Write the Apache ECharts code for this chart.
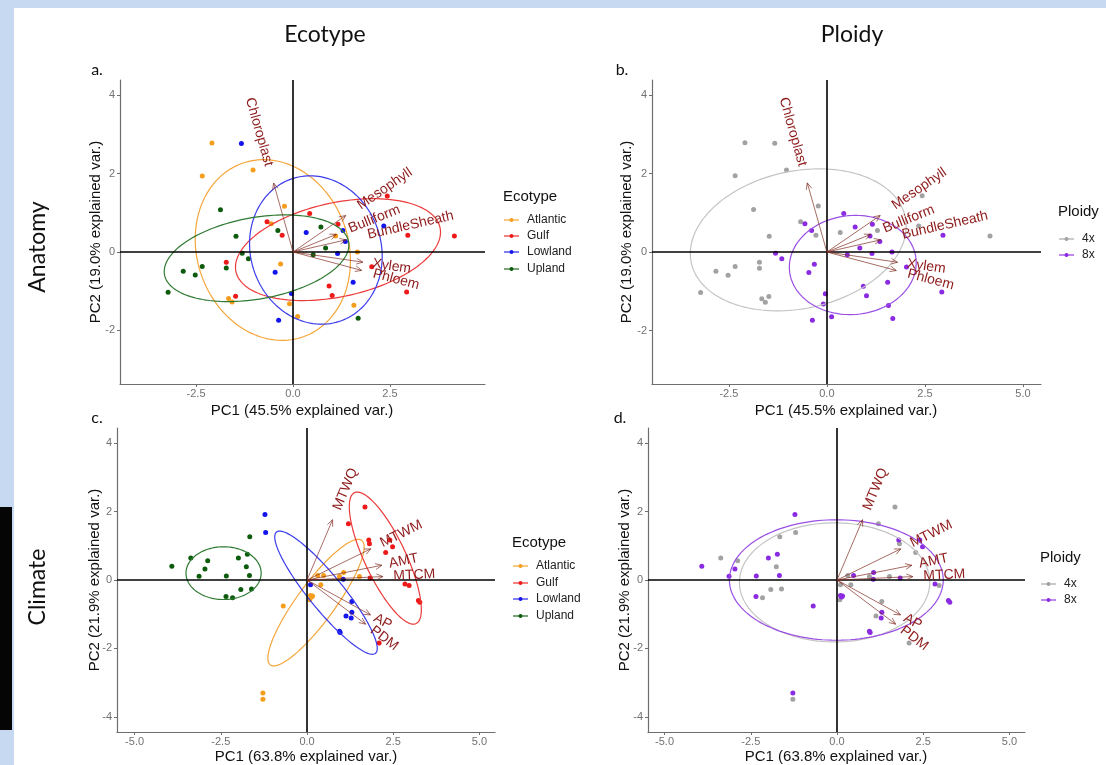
<!DOCTYPE html>
<html>
<head>
<meta charset="utf-8">
<script src="https://cdn.jsdelivr.net/npm/echarts@6/dist/echarts.min.js"></script>
<style>
  html, body { margin: 0; padding: 0; background: #c6d9f0; }
  #paper { position: absolute; left: 14px; top: 8px; width: 1092px; height: 757px; background: #fff; }
  #strip { position: absolute; left: 0; top: 507px; width: 12px; height: 223px; background: #050505; }
  #chart { position: absolute; left: 0; top: 0; width: 1106px; height: 765px; }
</style>
</head>
<body>
<div id="paper"></div>
<div id="strip"></div>
<div id="chart"></div>
<script>
// ---------------- data ----------------
var ecotypes = ['Atlantic', 'Gulf', 'Lowland', 'Upland'];
var ploidies = ['4x', '8x'];

// anatomy PCA (PC1 45.5%, PC2 19.0%)
var anatomyPC1 = [
  -2.09, -2.34, -1.03, -0.22, -0.56, 1.10, 1.66, -0.32, -1.66, -1.57, -0.09, 1.57, 0.12,
  2.43, 0.43, -0.67, -0.28, 1.16, 2.96, 4.16, 2.03, -1.72, -1.48, 0.93, 1.01, 2.93,
  -1.33, 0.34, 1.29, 2.34, 1.35, 1.15, -0.46, -0.04, 1.55, -0.37,
  -1.87, -1.47, -0.39, 0.72, 0.84, 0.52, -1.31, -1.15, -2.83, -2.52, -2.34, -1.72, -3.22, 1.68
];
var anatomyPC2 = [
  2.78, 1.94, 2.09, 1.17, 0.72, 0.41, 0.00, -0.31, -1.19, -1.28, -1.32, -1.36, -1.65,
  1.43, 0.98, 0.77, 0.43, 0.71, 0.43, 0.41, -0.38, -0.26, -1.13, -0.87, -1.11, -1.02,
  2.77, 0.50, 0.55, 0.66, 0.27, -0.04, -0.52, -1.06, -0.77, -1.74,
  1.08, 0.40, 0.55, 0.64, 0.10, -0.07, -0.03, -0.17, -0.49, -0.59, -0.37, -0.41, -1.03, -1.69
];
var anatomyEcotype = [
  0,0,0,0,0,0,0,0,0,0,0,0,0,
  1,1,1,1,1,1,1,1,1,1,1,1,1,
  2,2,2,2,2,2,2,2,2,2,
  3,3,3,3,3,3,3,3,3,3,3,3,3,3
];
var anatomyPloidy = [
  0,0,0,0,1,1,1,1,0,0,1,1,1,
  0,1,0,0,1,1,0,1,0,0,1,1,1,
  0,0,0,0,1,1,1,1,1,1,
  0,0,1,1,1,1,1,1,0,0,0,0,0,1
];
var anatomyVars = ['Chloroplast', 'Mesophyll', 'Bulliform', 'BundleSheath', 'Xylem', 'Phloem'];
var anatomyLoadPC1 = [-0.50, 1.36, 1.12, 1.37, 1.80, 1.77];
var anatomyLoadPC2 = [1.76, 0.93, 0.45, 0.31, -0.26, -0.47];
// ellipses: [centre PC1, centre PC2, semi-axis a, semi-axis b, angle of a (deg)]
var anatomyEcoEllipses = [
  [-0.52, 0.05, 2.35, 1.95, 110],
  [1.16, 0.06, 2.69, 1.20, 12],
  [0.59, 0.05, 1.92, 1.68, 110],
  [-0.94, -0.16, 2.41, 1.04, 10]
];
var anatomyPloEllipses = [
  [-0.73, 0.31, 2.79, 1.75, 12],
  [0.66, -0.33, 1.62, 1.26, 5]
];

// climate PCA (PC1 63.8%, PC2 21.9%)
var climatePC1 = [
  -1.28, -1.28, -0.69, 0.10, 0.13, 0.08, 0.16, 0.31, 0.48, 0.94, 1.06, 1.52, 0.40,
  1.68, 1.20, 1.79, 1.81, 2.28, 2.40, 2.48, 2.84, 2.96, 3.23, 3.27, 2.09, 1.83,
  -1.22, -1.20, 0.10, 1.05, 1.30, 1.30, 1.28, 1.13, 0.94, 0.96,
  -3.92, -3.37, -3.13, -2.96, -2.88, -2.34, -2.35, -2.16, -1.99, -1.92, -1.76, -1.73, -1.67, -1.61, -1.66
];
var climatePC2 = [
  -3.30, -3.48, -0.76, -0.45, -0.50, -0.58, -0.47, 0.13, 0.13, 0.10, 0.22, 0.10, -0.14,
  2.13, 1.64, 1.17, 1.06, 0.80, 1.17, 0.97, -0.12, -0.16, -0.60, -0.65, -1.84, 0.06,
  1.91, 1.39, -0.14, 0.02, -0.63, -0.94, -1.11, -1.05, -1.50, -1.53,
  0.40, 0.64, 0.11, 0.32, 0.56, 0.12, -0.48, -0.52, 0.64, -0.28, 0.39, 0.75, 0.13, -0.26, 1.26
];
var climateEcotype = [
  0,0,0,0,0,0,0,0,0,0,0,0,0,
  1,1,1,1,1,1,1,1,1,1,1,1,1,
  2,2,2,2,2,2,2,2,2,2,
  3,3,3,3,3,3,3,3,3,3,3,3,3,3,3
];
var climatePloidy = [
  1,0,1,1,1,0,1,0,1,0,1,0,0,
  0,0,1,0,0,1,1,1,0,1,1,0,1,
  1,0,0,1,0,1,1,0,1,1,
  1,0,1,1,0,1,1,0,1,0,0,1,1,0,0
];
var climateVars = ['MTWQ', 'MTWM', 'AMT', 'MTCM', 'AP', 'PDM'];
var climateLoadPC1 = [0.74, 1.85, 2.17, 2.20, 1.84, 1.70];
var climateLoadPC2 = [1.76, 0.91, 0.43, 0.10, -1.02, -1.29];
var climateEcoEllipses = [
  [0.26, -0.66, 2.25, 0.55, 54],
  [2.27, 0.64, 2.11, 0.60, 115],
  [0.55, -0.37, 2.28, 0.50, 129],
  [-2.42, 0.20, 1.09, 0.77, 0]
];
var climatePloEllipses = [
  [-0.07, -0.07, 2.76, 1.74, 0],
  [-0.02, 0.00, 3.10, 1.76, 0]
];

// ---------------- styles ----------------
var ecoPoint = ['#f59d1c', '#ee1a1a', '#1414ec', '#0d5c0d'];
var ecoLine = ['#f4a63a', '#ec3a3a', '#3c3cec', '#2f7a32'];
var ploPoint = ['#a2a2a2', '#8a2be2'];
var ploLine = ['#c4c4c4', '#9b4fe3'];
var arrowColor = 'rgba(130,45,35,0.7)';
var labelColor = '#8e1b1b';
var FONT = '"Liberation Sans", Arial, sans-serif';

var measureCtx = document.createElement('canvas').getContext('2d');
function textWidth(t, font) {
  measureCtx.font = font;
  return measureCtx.measureText(t).width;
}

var panels = [
  { grid: { left: 120, top: 80, width: 365, height: 304 }, x: [-4.46, 4.95], y: [-3.37, 4.39],
    xt: [-2.5, 0, 2.5], yt: [-2, 0, 2, 4] },
  { grid: { left: 652, top: 80, width: 389, height: 304 }, x: [-4.46, 5.46], y: [-3.36, 4.38],
    xt: [-2.5, 0, 2.5, 5], yt: [-2, 0, 2, 4] },
  { grid: { left: 117, top: 428, width: 378, height: 304 }, x: [-5.51, 5.45], y: [-4.44, 4.44],
    xt: [-5, -2.5, 0, 2.5, 5], yt: [-4, -2, 0, 2, 4] },
  { grid: { left: 648, top: 428, width: 377, height: 304 }, x: [-5.48, 5.45], y: [-4.44, 4.44],
    xt: [-5, -2.5, 0, 2.5, 5], yt: [-4, -2, 0, 2, 4] }
];

var grids = [], xAxes = [], yAxes = [], series = [];
panels.forEach(function (p, i) {
  grids.push(p.grid);
  xAxes.push({
    gridIndex: i, type: 'value', min: p.x[0], max: p.x[1],
    axisLine: { show: true, onZero: false, lineStyle: { color: '#6e6e6e', width: 1.2 } },
    axisTick: { show: true, length: 3, customValues: p.xt, lineStyle: { color: '#6e6e6e' } },
    axisLabel: { customValues: p.xt, color: '#727272', fontSize: 11, margin: 4, fontFamily: FONT,
      formatter: function (v) { return v.toFixed(1); } },
    splitLine: { show: false }
  });
  yAxes.push({
    gridIndex: i, type: 'value', min: p.y[0], max: p.y[1],
    axisLine: { show: true, onZero: false, lineStyle: { color: '#6e6e6e', width: 1.2 } },
    axisTick: { show: true, length: 3, customValues: p.yt, lineStyle: { color: '#6e6e6e' } },
    axisLabel: { customValues: p.yt, color: '#727272', fontSize: 11, margin: 5, fontFamily: FONT,
      formatter: function (v) { return String(v); } },
    splitLine: { show: false }
  });
});

function addPanel(idx, pc1, pc2, groups, names, ptColors, ellipses, elColors, vars, l1, l2) {
  // points
  names.forEach(function (nm, g) {
    var pts = [];
    pc1.forEach(function (v, k) { if (groups[k] === g) pts.push([v, pc2[k]]); });
    var s = {
      type: 'scatter', name: nm, xAxisIndex: idx, yAxisIndex: idx, data: pts,
      symbolSize: 5, itemStyle: { color: ptColors[g], opacity: 1 }, z: 3, silent: true
    };
    if (g === 0) {
      s.markLine = {
        silent: true, symbol: 'none', label: { show: false },
        lineStyle: { color: '#000', width: 1.6, type: 'solid' },
        data: [{ xAxis: 0 }, { yAxis: 0 }]
      };
    }
    series.push(s);
  });
  // ellipses
  series.push({
    type: 'custom', xAxisIndex: idx, yAxisIndex: idx, z: 4, silent: true,
    data: ellipses.map(function (e) { return [e[0], e[1]]; }),
    renderItem: function (params, api) {
      var e = ellipses[params.dataIndex];
      var ang = e[4] * Math.PI / 180, ca = Math.cos(ang), sa = Math.sin(ang);
      var pts = [];
      for (var k = 0; k <= 144; k++) {
        var t = k / 144 * 2 * Math.PI;
        var ux = e[2] * Math.cos(t), uy = e[3] * Math.sin(t);
        pts.push(api.coord([e[0] + ux * ca - uy * sa, e[1] + ux * sa + uy * ca]));
      }
      return { type: 'polyline', shape: { points: pts },
        style: { stroke: elColors[params.dataIndex], fill: null, lineWidth: 1.2 } };
    }
  });
  // arrows
  series.push({
    type: 'custom', xAxisIndex: idx, yAxisIndex: idx, z: 5, silent: true,
    data: l1.map(function (v, k) { return [v, l2[k]]; }),
    renderItem: function (params, api) {
      var p0 = api.coord([0, 0]);
      var p1 = api.coord([api.value(0), api.value(1)]);
      var a = Math.atan2(p1[1] - p0[1], p1[0] - p0[0]);
      var L = 7, w = 0.42;
      var h1 = [p1[0] - L * Math.cos(a - w), p1[1] - L * Math.sin(a - w)];
      var h2 = [p1[0] - L * Math.cos(a + w), p1[1] - L * Math.sin(a + w)];
      return { type: 'group', children: [
        { type: 'line', shape: { x1: p0[0], y1: p0[1], x2: p1[0], y2: p1[1] },
          style: { stroke: arrowColor, lineWidth: 1 } },
        { type: 'polyline', shape: { points: [h1, p1, h2] },
          style: { stroke: arrowColor, fill: null, lineWidth: 1 } }
      ] };
    }
  });
  // variable names (ggbiplot style: angle = atan(y/x), hjust = (1 - 1.5*sign(x))/2)
  series.push({
    type: 'custom', xAxisIndex: idx, yAxisIndex: idx, z: 6, silent: true,
    data: l1.map(function (v, k) { return [v, l2[k]]; }),
    renderItem: function (params, api) {
      var x = api.value(0), y = api.value(1);
      var name = vars[params.dataIndex];
      var font = '14px ' + FONT;
      var tip = api.coord([x, y]);
      var rad = Math.atan(y / x);
      var gap = 0.25 * textWidth(name, font);
      var dx = Math.cos(rad) * gap, dy = -Math.sin(rad) * gap;
      var pos = x >= 0 ? [tip[0] + dx, tip[1] + dy] : [tip[0] - dx, tip[1] - dy];
      return { type: 'text', x: pos[0], y: pos[1], rotation: rad,
        style: { text: name, fill: labelColor, font: font,
          align: x >= 0 ? 'left' : 'right', verticalAlign: 'middle' } };
    }
  });
}

addPanel(0, anatomyPC1, anatomyPC2, anatomyEcotype, ecotypes, ecoPoint, anatomyEcoEllipses, ecoLine,
  anatomyVars, anatomyLoadPC1, anatomyLoadPC2);
addPanel(1, anatomyPC1, anatomyPC2, anatomyPloidy, ploidies, ploPoint, anatomyPloEllipses, ploLine,
  anatomyVars, anatomyLoadPC1, anatomyLoadPC2);
addPanel(2, climatePC1, climatePC2, climateEcotype, ecotypes, ecoPoint, climateEcoEllipses, ecoLine,
  climateVars, climateLoadPC1, climateLoadPC2);
addPanel(3, climatePC1, climatePC2, climatePloidy, ploidies, ploPoint, climatePloEllipses, ploLine,
  climateVars, climateLoadPC1, climateLoadPC2);

// ---------------- text furniture ----------------
var graphics = [];
function txt(t, x, y, font, color, align, rot) {
  graphics.push({ type: 'text', x: x, y: y, rotation: rot || 0, silent: true,
    style: { text: t, font: font, fill: color || '#111', align: align || 'center', verticalAlign: 'middle' } });
}
var big = '23px Lato, "Open Sans", sans-serif';
txt('Ecotype', 325, 35, big);
txt('Ploidy', 852, 35, big);
txt('Anatomy', 38, 247, big, '#111', 'center', Math.PI / 2);
txt('Climate', 38, 587, big, '#111', 'center', Math.PI / 2);
var tag = '16px Lato, "Open Sans", sans-serif';
txt('a.', 97, 70, tag);
txt('b.', 622, 70, tag);
txt('c.', 97, 418, tag);
txt('d.', 620, 418, tag);

var axisFont = '15px ' + FONT;
txt('PC1 (45.5% explained var.)', 302, 411, axisFont, '#111');
txt('PC1 (45.5% explained var.)', 846, 411, axisFont, '#111');
txt('PC1 (63.8% explained var.)', 306, 757, axisFont, '#111');
txt('PC1 (63.8% explained var.)', 836, 757, axisFont, '#111');
txt('PC2 (19.0% explained var.)', 96, 232, axisFont, '#111', 'center', Math.PI / 2);
txt('PC2 (19.0% explained var.)', 627, 232, axisFont, '#111', 'center', Math.PI / 2);
txt('PC2 (21.9% explained var.)', 95, 580, axisFont, '#111', 'center', Math.PI / 2);
txt('PC2 (21.9% explained var.)', 625, 580, axisFont, '#111', 'center', Math.PI / 2);

function legend(title, names, colors, x0, yTitle, yItems) {
  txt(title, x0, yTitle, '15px ' + FONT, '#111', 'left');
  names.forEach(function (nm, k) {
    var y = yItems[k];
    graphics.push({ type: 'line', silent: true, shape: { x1: x0 + 1, y1: y, x2: x0 + 16, y2: y },
      style: { stroke: colors[k], lineWidth: 1.1 } });
    graphics.push({ type: 'circle', silent: true, shape: { cx: x0 + 8.5, cy: y, r: 2 },
      style: { fill: colors[k] } });
    txt(nm, x0 + 24, y, '12px ' + FONT, '#222', 'left');
  });
}
legend('Ecotype', ecotypes, ecoPoint, 503, 197, [220, 236, 252, 269]);
legend('Ecotype', ecotypes, ecoPoint, 512, 543, [566, 583, 599, 616]);
legend('Ploidy', ploidies, ploPoint, 1058, 212, [239, 255]);
legend('Ploidy', ploidies, ploPoint, 1040, 558, [584, 600]);

var chart = echarts.init(document.getElementById('chart'), null, { renderer: 'canvas' });
chart.setOption({
  animation: false,
  backgroundColor: 'transparent',
  grid: grids,
  xAxis: xAxes,
  yAxis: yAxes,
  series: series,
  graphic: { elements: graphics }
});
</script>
</body>
</html>
